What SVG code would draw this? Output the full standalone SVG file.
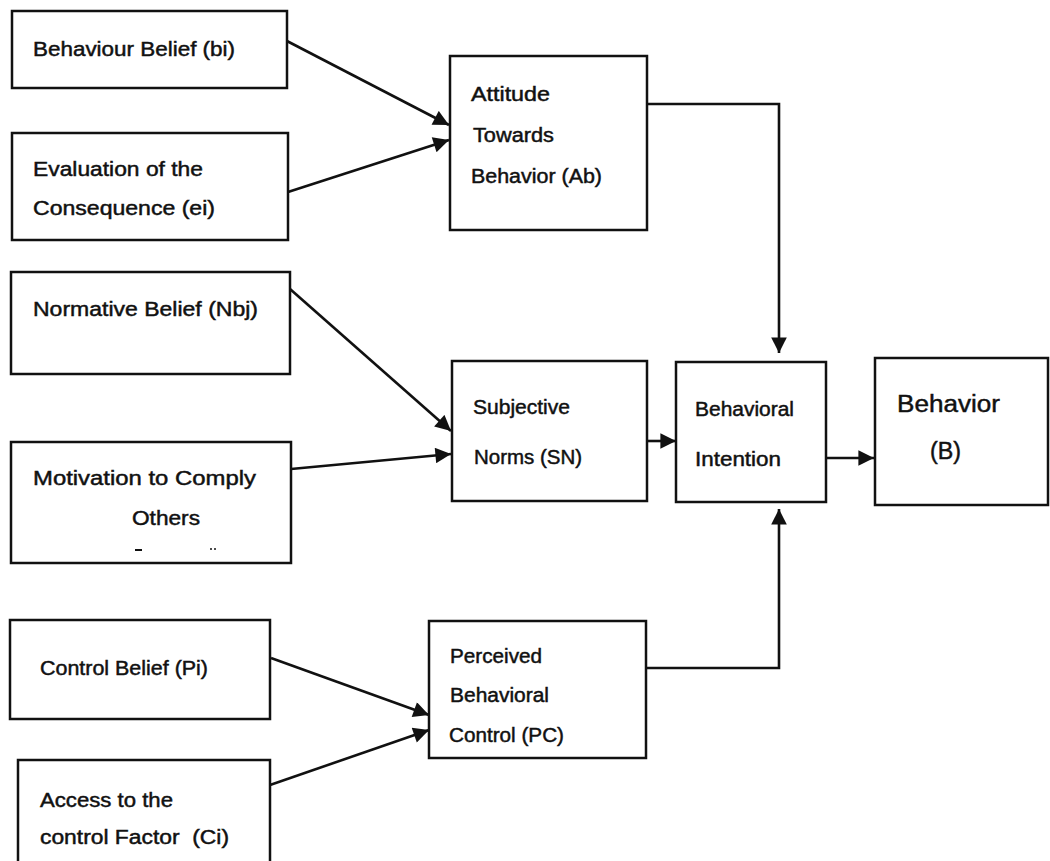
<svg xmlns="http://www.w3.org/2000/svg" width="1050" height="861" viewBox="0 0 1050 861">
<defs>
<style>
.box{fill:#fff;stroke:#111;stroke-width:2.5}
.t{font-family:"Liberation Sans",Arial,sans-serif;font-size:19.5px;fill:#111;stroke:#111;stroke-width:0.45}
.big{font-size:23.5px}
.c{fill:none;stroke:#111;stroke-width:2.6}
</style>
<marker id="ah" viewBox="0 0 10 10" refX="10" refY="5" markerWidth="6.5" markerHeight="6" orient="auto" markerUnits="strokeWidth">
<path d="M0,0 L10,5 L0,10 z" fill="#111"/>
</marker>
</defs>
<rect width="1050" height="861" fill="#fff"/>
<g id="connectors">
<line class="c" x1="285" y1="40" x2="449" y2="125" marker-end="url(#ah)"/>
<line class="c" x1="288" y1="192" x2="449" y2="140" marker-end="url(#ah)"/>
<line class="c" x1="290" y1="289" x2="451" y2="431" marker-end="url(#ah)"/>
<line class="c" x1="291" y1="469" x2="451" y2="454" marker-end="url(#ah)"/>
<line class="c" x1="271" y1="658" x2="429" y2="715" marker-end="url(#ah)"/>
<line class="c" x1="270" y1="785" x2="429" y2="730" marker-end="url(#ah)"/>
<polyline class="c" points="647,104 779,104 779,353" marker-end="url(#ah)"/>
<polyline class="c" points="646,668 779,668 779,509" marker-end="url(#ah)"/>
<line class="c" x1="647" y1="441" x2="676" y2="441" marker-end="url(#ah)"/>
<line class="c" x1="826" y1="458" x2="874" y2="458" marker-end="url(#ah)"/>
</g>
<g id="bi">
<rect class="box" x="12" y="11" width="275" height="77"/>
<text class="t" x="33" y="56" textLength="202" lengthAdjust="spacingAndGlyphs">Behaviour Belief (bi)</text>
</g>
<g id="ei">
<rect class="box" x="12" y="133" width="276" height="107"/>
<text class="t" x="33" y="176" textLength="170" lengthAdjust="spacingAndGlyphs">Evaluation of the</text>
<text class="t" x="33" y="215" textLength="182" lengthAdjust="spacingAndGlyphs">Consequence (ei)</text>
</g>
<g id="nbj">
<rect class="box" x="11" y="272" width="279" height="102"/>
<text class="t" x="33" y="316" textLength="225" lengthAdjust="spacingAndGlyphs">Normative Belief (Nbj)</text>
</g>
<g id="mc">
<rect class="box" x="11" y="442" width="280" height="121"/>
<text class="t" x="33" y="485" textLength="223" lengthAdjust="spacingAndGlyphs">Motivation to Comply</text>
<text class="t" x="132" y="525" textLength="68" lengthAdjust="spacingAndGlyphs">Others</text>
<rect x="135" y="549" width="7" height="2" fill="#111"/>
<circle cx="211" cy="549" r="1" fill="#111"/>
<circle cx="215" cy="549" r="1" fill="#111"/>
</g>
<g id="pi">
<rect class="box" x="10" y="620" width="260" height="99"/>
<text class="t" x="40" y="675" textLength="168" lengthAdjust="spacingAndGlyphs">Control Belief (Pi)</text>
</g>
<g id="ci">
<rect class="box" x="18" y="760" width="252" height="120"/>
<text class="t" x="40" y="807" textLength="133" lengthAdjust="spacingAndGlyphs">Access to the</text>
<text class="t" x="40" y="844" textLength="189" lengthAdjust="spacingAndGlyphs" xml:space="preserve">control Factor  (Ci)</text>
</g>
<g id="ab">
<rect class="box" x="450" y="56" width="197" height="174"/>
<text class="t" x="471" y="101" textLength="79" lengthAdjust="spacingAndGlyphs">Attitude</text>
<text class="t" x="473" y="142" textLength="81" lengthAdjust="spacingAndGlyphs">Towards</text>
<text class="t" x="471" y="183" textLength="131" lengthAdjust="spacingAndGlyphs">Behavior (Ab)</text>
</g>
<g id="sn">
<rect class="box" x="452" y="361" width="195" height="140"/>
<text class="t" x="473" y="414" textLength="97" lengthAdjust="spacingAndGlyphs">Subjective</text>
<text class="t" x="474" y="464" textLength="108" lengthAdjust="spacingAndGlyphs">Norms (SN)</text>
</g>
<g id="bint">
<rect class="box" x="676" y="362" width="150" height="140"/>
<text class="t" x="695" y="416" textLength="99" lengthAdjust="spacingAndGlyphs">Behavioral</text>
<text class="t" x="695" y="466" textLength="86" lengthAdjust="spacingAndGlyphs">Intention</text>
</g>
<g id="b">
<rect class="box" x="875" y="358" width="173" height="147"/>
<text class="t big" x="897" y="412" textLength="103" lengthAdjust="spacingAndGlyphs">Behavior</text>
<text class="t big" x="930" y="459" textLength="31" lengthAdjust="spacingAndGlyphs">(B)</text>
</g>
<g id="pc">
<rect class="box" x="429" y="621" width="217" height="137"/>
<text class="t" x="450" y="663" textLength="92" lengthAdjust="spacingAndGlyphs">Perceived</text>
<text class="t" x="450" y="702" textLength="99" lengthAdjust="spacingAndGlyphs">Behavioral</text>
<text class="t" x="449" y="742" textLength="115" lengthAdjust="spacingAndGlyphs">Control (PC)</text>
</g>
</svg>
